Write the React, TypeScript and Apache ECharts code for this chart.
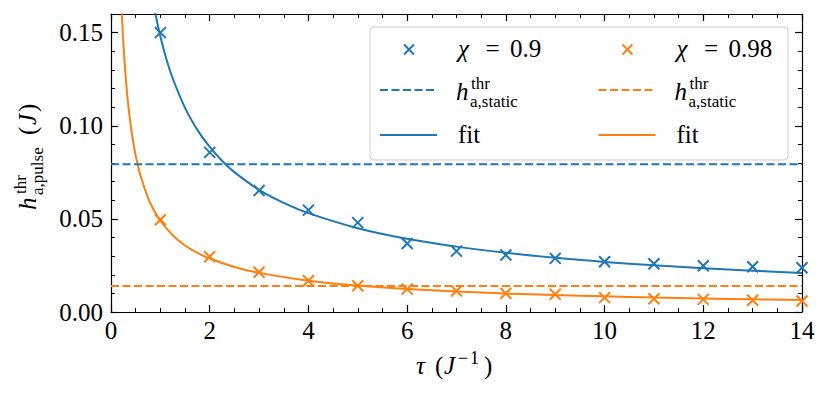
import React, { useEffect, useRef } from "react";
import * as echarts from "echarts";

// ---- data ----
const tau = [1, 2, 3, 4, 5, 6, 7, 8, 9, 10, 11, 12, 13, 14];
const chi09Values = [0.150, 0.0857, 0.0652, 0.0547, 0.0480, 0.0368, 0.0327, 0.0306, 0.0288, 0.0270, 0.0259, 0.0248, 0.0243, 0.0238];
const chi098Values = [0.0495, 0.0297, 0.0213, 0.0168, 0.0141, 0.0123, 0.0113, 0.0100, 0.0095, 0.0077, 0.0071, 0.0068, 0.0063, 0.0059];
const staticThreshold09 = 0.0793;
const staticThreshold098 = 0.0139;
const fitTau09 = [0.88, 0.94, 1, 1.1, 1.25, 1.5, 1.75, 2, 2.25, 2.5, 3, 3.5, 4, 5, 6, 7, 8, 9, 10, 11, 12, 13, 14];
const fit09 = [0.1627, 0.155, 0.148, 0.1379, 0.1255, 0.1096, 0.0978, 0.0886, 0.0812, 0.0751, 0.0656, 0.0586, 0.0531, 0.0450, 0.0393, 0.0351, 0.0318, 0.0291, 0.0269, 0.0251, 0.0235, 0.0222, 0.0210];
const fitTau098 = [0.2, 0.22, 0.25, 0.3, 0.35, 0.4, 0.45, 0.5, 0.6, 0.75, 0.875, 1, 1.25, 1.5, 1.75, 2, 2.5, 3, 4, 5, 6, 7, 8, 9, 10, 11, 12, 13, 14];
const fit098 = [0.1719, 0.1596, 0.1445, 0.1253, 0.1111, 0.1001, 0.0913, 0.0841, 0.0730, 0.0613, 0.0544, 0.0490, 0.0412, 0.0357, 0.0317, 0.0287, 0.0242, 0.0210, 0.0168, 0.0142, 0.0124, 0.0110, 0.0099, 0.0091, 0.0084, 0.0078, 0.0073, 0.0068, 0.0064];
const xTickValues = [0, 2, 4, 6, 8, 10, 12, 14];
const yTickValues = [0, 0.05, 0.1, 0.15];
const legendLabels = ["χ = 0.9", "χ = 0.98"];

const BLUE = "#1f77b4";
const ORANGE = "#ff7f0e";
const FONT = "'Liberation Serif', 'Times New Roman', serif";
const CROSS = "path://M0,0L10,10M10,0L0,10";

function txt(x: number, y: number, text: string, size: number, italic = false, align = "left", color = "#000") {
  return {
    type: "text",
    x,
    y,
    z: 20,
    style: {
      text,
      fill: color,
      fontSize: size,
      fontFamily: FONT,
      fontStyle: italic ? "italic" : "normal",
      align,
      verticalAlign: "middle",
    },
  };
}

function mid(baseline: number, size: number) {
  return baseline - 0.3375 * size;
}

export default function App() {
  const ref = useRef<HTMLDivElement>(null);

  useEffect(() => {
    document.body.style.margin = "0";
    if (!ref.current) return;
    const chart = echarts.init(ref.current, undefined, { renderer: "svg" });

    const axisLineStyle = { color: "#000", width: 1.2 };
    const majorX = (pos: string, labels: boolean) => ({
      type: "value",
      position: pos,
      min: 0,
      max: 14,
      interval: 2,
      axisLine: { show: true, onZero: false, lineStyle: axisLineStyle },
      axisTick: { show: true, inside: true, length: 7, lineStyle: { color: "#000", width: 1.2 } },
      minorTick: { show: true, splitNumber: 4, length: 4, lineStyle: { color: "#000", width: 1 } },
      axisLabel: {
        show: labels,
        fontFamily: FONT,
        fontSize: 25,
        color: "#000",
        margin: 6,
        customValues: xTickValues,
        formatter: (v: number) => String(v),
      },
      splitLine: { show: false },
      minorSplitLine: { show: false },
    });
    const majorY = (pos: string, labels: boolean) => ({
      type: "value",
      position: pos,
      min: 0,
      max: 0.16,
      interval: 0.05,
      axisLine: { show: true, onZero: false, lineStyle: axisLineStyle },
      axisTick: { show: true, inside: true, length: 7, customValues: yTickValues, lineStyle: { color: "#000", width: 1.2 } },
      axisLabel: {
        show: labels,
        fontFamily: FONT,
        fontSize: 25,
        color: "#000",
        margin: 8,
        customValues: yTickValues,
        formatter: (v: number) => (Math.round(v * 100) % 5 === 0 ? v.toFixed(2) : ""),
      },
      splitLine: { show: false },
    });
    const minorY = (pos: string) => ({
      type: "value",
      position: pos,
      min: 0,
      max: 0.16,
      interval: 0.01,
      axisLine: { show: false, onZero: false },
      axisTick: { show: true, inside: true, length: 4, lineStyle: { color: "#000", width: 1 } },
      axisLabel: { show: false },
      splitLine: { show: false },
    });

    const legendX0 = 370;
    const colOff = 218.5;
    const rows = [49.5, 90, 135];
    const legendGraphics: any[] = [
      {
        type: "rect",
        z: 15,
        shape: { x: legendX0, y: 27, width: 418, height: 133, r: 4 },
        style: { fill: "rgba(255,255,255,0.8)", stroke: "#cccccc", lineWidth: 1 },
      },
    ];
    [BLUE, ORANGE].forEach((c, i) => {
      const dx = i * colOff;
      const cx = 409 + dx;
      const cy = rows[0];
      legendGraphics.push(
        { type: "line", z: 20, shape: { x1: cx - 5, y1: cy - 5, x2: cx + 5, y2: cy + 5 }, style: { stroke: c, lineWidth: 2 } },
        { type: "line", z: 20, shape: { x1: cx - 5, y1: cy + 5, x2: cx + 5, y2: cy - 5 }, style: { stroke: c, lineWidth: 2 } },
        { type: "line", z: 20, shape: { x1: 380 + dx, y1: rows[1], x2: 437 + dx, y2: rows[1] }, style: { stroke: c, lineWidth: 2, lineDash: [8, 3.5] } },
        { type: "line", z: 20, shape: { x1: 380 + dx, y1: rows[2], x2: 437 + dx, y2: rows[2] }, style: { stroke: c, lineWidth: 2 } }
      );
      const label = legendLabels[i];
      const num = label.split("=")[1].trim();
      legendGraphics.push(
        txt(458 + dx, mid(57, 25), "χ", 25, true),
        txt(492.5 + dx, mid(57, 25), "=", 25, false, "center"),
        txt(510 + dx, mid(57, 25), num, 25),
        txt(456 + dx, mid(100, 25), "h", 25, true),
        txt(471 + dx, mid(89, 17), "thr", 17),
        txt(470 + dx, mid(107, 17), "a,static", 17),
        txt(458 + dx, mid(143.3, 25), "fit", 25)
      );
    });

    // x-axis name: τ (J^-1)
    const xName = [
      txt(416, mid(373.5, 25), "τ", 25, true),
      txt(435, mid(373.5, 25), "(", 25),
      txt(444, mid(373.5, 25), "J", 25, true),
      txt(458, mid(364.3, 18), "−", 18),
      txt(470, mid(364.3, 18), "1", 18),
      txt(484, mid(373.5, 25), ")", 25),
    ];

    // y-axis name: h^thr_{a,pulse} (J), rotated
    const yName = {
      type: "group",
      x: 36,
      y: 210,
      rotation: Math.PI / 2,
      z: 20,
      children: [
        txt(0, mid(0, 25), "h", 25, true),
        txt(16, mid(-10, 17), "thr", 17),
        txt(15, mid(7, 17), "a,pulse", 17),
        txt(75, mid(0, 25), "(", 25),
        txt(85, mid(0, 25), "J", 25, true),
        txt(98, mid(0, 25), ")", 25),
      ],
    };

    chart.setOption({
      animation: false,
      backgroundColor: "#fff",
      grid: { left: 111, top: 14, width: 691, height: 298, containLabel: false },
      xAxis: [majorX("bottom", true), majorX("top", false)],
      yAxis: [majorY("left", true), minorY("left"), majorY("right", false), minorY("right")],
      series: [
        {
          name: "fit χ = 0.9",
          type: "line",
          data: fitTau09.map((t, i) => [t, fit09[i]]),
          symbol: "none",
          smooth: 0.4,
          clip: true,
          lineStyle: { color: BLUE, width: 2 },
          itemStyle: { color: BLUE },
          z: 2,
        },
        {
          name: "fit χ = 0.98",
          type: "line",
          data: fitTau098.map((t, i) => [t, fit098[i]]),
          symbol: "none",
          smooth: 0.4,
          clip: true,
          lineStyle: { color: ORANGE, width: 2 },
          itemStyle: { color: ORANGE },
          z: 2,
        },
        {
          name: "static χ = 0.9",
          type: "line",
          data: [[0, staticThreshold09], [14, staticThreshold09]],
          symbol: "none",
          lineStyle: { color: BLUE, width: 2, type: [8, 3.5] },
          z: 2,
        },
        {
          name: "static χ = 0.98",
          type: "line",
          data: [[0, staticThreshold098], [14, staticThreshold098]],
          symbol: "none",
          lineStyle: { color: ORANGE, width: 2, type: [8, 3.5] },
          z: 2,
        },
        {
          name: legendLabels[0],
          type: "scatter",
          data: tau.map((t, i) => [t, chi09Values[i]]),
          symbol: CROSS,
          symbolSize: 11,
          itemStyle: { color: "rgba(0,0,0,0)", borderColor: BLUE, borderWidth: 2, opacity: 1 },
          z: 3,
        },
        {
          name: legendLabels[1],
          type: "scatter",
          data: tau.map((t, i) => [t, chi098Values[i]]),
          symbol: CROSS,
          symbolSize: 11,
          itemStyle: { color: "rgba(0,0,0,0)", borderColor: ORANGE, borderWidth: 2, opacity: 1 },
          z: 3,
        },
      ],
      graphic: [...legendGraphics, ...xName, yName],
    });

    return () => chart.dispose();
  }, []);

  return <div ref={ref} style={{ width: 830, height: 395 }} />;
}
